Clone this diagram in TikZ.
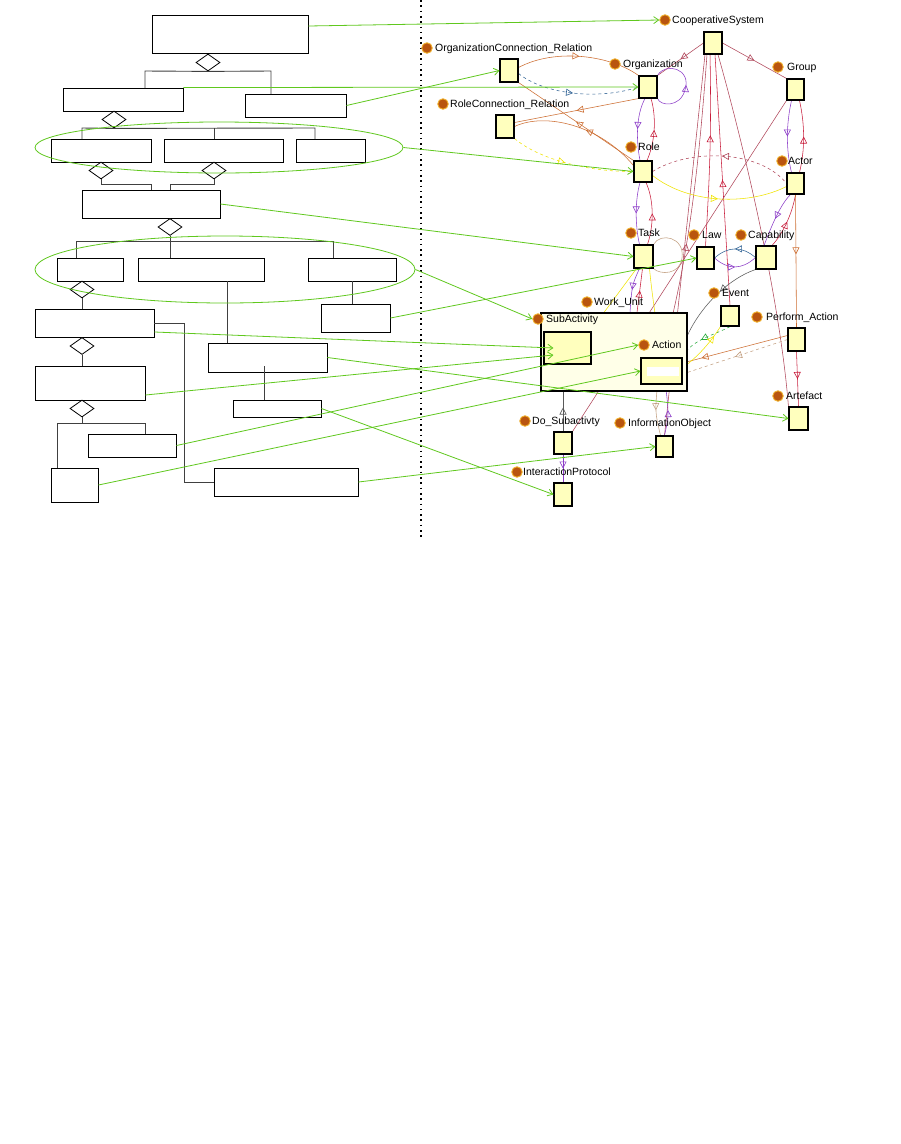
\documentclass[tikz,border=0pt]{standalone}
\usepackage{fontspec}
\setmainfont{Liberation Sans}
\usetikzlibrary{shapes.geometric,arrows.meta,decorations.markings}
\pgfdeclarelayer{bg}
\pgfsetlayers{bg,main}
\definecolor{gr}{RGB}{96,200,30}
\definecolor{ry}{RGB}{255,255,190}
\definecolor{rypale}{RGB}{255,255,232}
\definecolor{dotc}{RGB}{185,85,15}
\definecolor{dotr}{RGB}{240,175,40}
\definecolor{cbr}{RGB}{176,70,90}
\definecolor{cpu}{RGB}{140,60,200}
\definecolor{cre}{RGB}{200,30,60}
\definecolor{cor}{RGB}{205,110,50}
\definecolor{cye}{RGB}{240,228,0}
\definecolor{cbl}{RGB}{50,100,150}
\definecolor{cgn}{RGB}{40,170,60}
\definecolor{cgy}{RGB}{90,90,90}
\definecolor{ctan}{RGB}{195,160,130}
\tikzset{
  lbox/.style={draw=black, line width=0.9pt, inner sep=0pt},
  agg/.style={diamond, draw=black, line width=0.8pt, fill=white, minimum width=24pt, minimum height=17pt, inner sep=0pt},
  tree/.style={draw=black!75, line width=0.9pt},
  grp/.style={ellipse, draw=gr, line width=0.8pt, inner sep=0pt},
  garrow/.style={draw=gr, line width=0.8pt, -{Straight Barb[length=5pt,width=7pt]}},
  rbox/.style={draw=black, line width=1.1pt, fill=ry, inner sep=0pt},
  ldot/.style={circle, fill=dotc, draw=dotr, line width=0.9pt, minimum size=10.5pt, inner sep=0pt},
  ltxt/.style={anchor=base west, inner sep=0pt, font=\fontsize{10.5pt}{12pt}\selectfont},
  thin edge/.style={line width=0.55pt},
  tri/.style={postaction={decorate,decoration={markings,mark=at position #1 with {\arrow{Triangle[open,length=7pt,width=7pt,line width=0.6pt]}}}}},
  tri/.default=0.5,
  rtri/.style={postaction={decorate,decoration={markings,mark=at position #1 with {\arrowreversed{Triangle[open,length=7pt,width=7pt,line width=0.6pt]}}}}},
  rtri/.default=0.5,
}
\begin{document}
\begin{tikzpicture}[x=1pt,y=-1pt]
\begin{pgfonlayer}{bg}
\fill[white] (0,0) rectangle (901,1144);
\end{pgfonlayer}
\useasboundingbox (0,0) rectangle (901,1144);

% ---------------- left hierarchy ----------------
\node[lbox, minimum width=156pt, minimum height=38pt] (top) at (230,34) {};
\node[lbox, minimum width=120pt, minimum height=23pt] (b2l) at (123,99.5) {};
\node[lbox, minimum width=101pt, minimum height=23pt] (b2r) at (295.5,105.5) {};
\node[lbox, minimum width=100pt, minimum height=23pt] (b3a) at (101,150.5) {};
\node[lbox, minimum width=119pt, minimum height=23pt] (b3b) at (223.5,150.5) {};
\node[lbox, minimum width=69pt, minimum height=23pt] (b3c) at (330.5,150.5) {};
\node[lbox, minimum width=138pt, minimum height=28pt] (b4) at (151,204) {};
\node[lbox, minimum width=66pt, minimum height=23pt] (b5d) at (90,269.5) {};
\node[lbox, minimum width=126pt, minimum height=23pt] (b5e) at (201,269.5) {};
\node[lbox, minimum width=88pt, minimum height=23pt] (b5f) at (352,269.5) {};
\node[lbox, minimum width=119pt, minimum height=28pt] (bG) at (94.5,323) {};
\node[lbox, minimum width=69pt, minimum height=28pt] (bH) at (355.5,318) {};
\node[lbox, minimum width=119pt, minimum height=29pt] (bI) at (267.5,357.5) {};
\node[lbox, minimum width=88pt, minimum height=17pt] (bJ) at (277,408.5) {};
\node[lbox, minimum width=110pt, minimum height=34pt] (bK) at (90,383) {};
\node[lbox, minimum width=88pt, minimum height=23pt] (bL) at (132,445.5) {};
\node[lbox, minimum width=47pt, minimum height=34pt] (bM) at (74.5,485) {};
\node[lbox, minimum width=144pt, minimum height=28pt] (bN) at (286,482) {};

\node[agg] (d1) at (208,62.5) {};
\node[agg] (d2) at (114,119.5) {};
\node[agg] (d3) at (101,170.5) {};
\node[agg] (d4) at (214,170.5) {};
\node[agg] (d5) at (170,227) {};
\node[agg] (d6) at (82,289.5) {};
\node[agg] (d7) at (82,346) {};
\node[agg] (d8) at (82,408.5) {};

\draw[tree] (d1.south) -- (145,71) -- (145,88);
\draw[tree] (d1.south) -- (271,71) -- (271,94);
\draw[tree] (d2.south) -- (82,128) -- (82,139);
\draw[tree] (d2.south) -- (315,128) -- (315,139);
\draw[tree] (214,128) -- (214,139);
\draw[tree] (d3.south) -- (101,184) -- (151,184) -- (151,190);
\draw[tree] (d4.south) -- (214,184) -- (170,184) -- (170,190);
\draw[tree] (d5.south) -- (170,241);
\draw[tree] (76,258) -- (76,241) -- (333,241) -- (333,258);
\draw[tree] (170,241) -- (170,258);
\draw[tree] (d6.south) -- (82,309);
\draw[tree] (bG.east) -- (184,323) -- (184,482) -- (bN.west);
\draw[tree] (d7.south) -- (82,366);
\draw[tree] (d8.south) -- (82,423);
\draw[tree] (57,468) -- (57,423) -- (145,423) -- (145,434);
\draw[tree] (352,281) -- (352,304);
\draw[tree] (227,281) -- (227,343);
\draw[tree] (264,366) -- (264,400);

\node[grp, minimum width=368pt, minimum height=51pt] (e1) at (219,147.5) {};
\node[grp, minimum width=380pt, minimum height=67pt] (e2) at (225,269.5) {};

% separator
\coordinate (sepT) at (421,0);
\coordinate (sepB) at (421,540);
\draw[line width=1.6pt, dash pattern=on 1.6pt off 3.7pt] (sepT) -- (sepB);

% ---------------- right ontology graph ----------------
\node[rbox, fill=rypale, minimum width=146pt, minimum height=78pt] (wu) at (614,352) {};
\node[rbox, minimum width=18pt, minimum height=22pt] (coop) at (713,43) {};
\node[rbox, minimum width=17pt, minimum height=21pt] (grpn) at (795.5,89.5) {};
\node[rbox, minimum width=17pt, minimum height=21pt] (act) at (795.5,183.5) {};
\node[rbox, minimum width=18pt, minimum height=22pt] (org) at (648,87) {};
\node[rbox, minimum width=18pt, minimum height=23pt] (ocr) at (509,70.5) {};
\node[rbox, minimum width=18pt, minimum height=23pt] (rcr) at (505,126.5) {};
\node[rbox, minimum width=18pt, minimum height=21pt] (role) at (643,171.5) {};
\node[rbox, minimum width=19pt, minimum height=23pt] (task) at (643.5,256.5) {};
\node[rbox, minimum width=17pt, minimum height=22pt] (law) at (705.5,258) {};
\node[rbox, minimum width=20pt, minimum height=23pt] (cap) at (766,257.5) {};
\node[rbox, minimum width=18pt, minimum height=20pt] (evt) at (730,316) {};
\node[rbox, minimum width=17pt, minimum height=23pt] (pa) at (796.5,339.5) {};
\node[rbox, minimum width=19pt, minimum height=23pt] (art) at (798.5,418.5) {};
\node[rbox, minimum width=47pt, minimum height=32pt] (sub) at (567.5,348) {};
\node[rbox, minimum width=41pt, minimum height=26pt] (actn) at (661.5,371) {};
\node[fill=white, minimum width=32pt, minimum height=9pt, inner sep=0pt] (actnw) at (663,371) {};
\node[rbox, minimum width=18pt, minimum height=22pt] (dosub) at (563,443) {};
\node[rbox, minimum width=17pt, minimum height=21pt] (info) at (664.5,446.5) {};
\node[rbox, minimum width=18pt, minimum height=23pt] (ip) at (563,494.5) {};

% labels
\node[ldot] (coopd) at (665,20) {};   \node[ltxt] (coopt) at (672,23.7) {CooperativeSystem};
\node[ldot] (ocrd) at (427,48) {};    \node[ltxt] (ocrt) at (435,51.7) {OrganizationConnection\_Relation};
\node[ldot] (orgd) at (615,64) {};    \node[ltxt] (orgt) at (623,67.7) {Organization};
\node[ldot] (grpd) at (778,67) {};    \node[ltxt] (grpt) at (787,70.7) {Group};
\node[ldot] (rcrd) at (443,104) {};   \node[ltxt] (rcrt) at (450,107.7) {RoleConnection\_Relation};
\node[ldot] (roled) at (631,147) {};  \node[ltxt] (rolet) at (638,150.7) {Role};
\node[ldot] (actd) at (782,161) {};   \node[ltxt] (actt) at (788,164.7) {Actor};
\node[ldot] (taskd) at (631,233) {};  \node[ltxt] (taskt) at (638,236.7) {Task};
\node[ldot] (lawd) at (694,235) {};   \node[ltxt] (lawt) at (702,238.7) {Law};
\node[ldot] (capd) at (741,235) {};   \node[ltxt] (capt) at (748,238.7) {Capability};
\node[ldot] (evtd) at (714,293) {};   \node[ltxt] (evtt) at (722,296.7) {Event};
\node[ldot] (wud) at (587,302) {};    \node[ltxt] (wut) at (594,305.7) {Work\_Unit};
\node[ldot] (subd) at (538,319) {};   \node[ltxt] (subt) at (546,322.7) {SubActivity};
\node[ldot] (pad) at (757,317) {};    \node[ltxt] (pat) at (766,320.7) {Perform\_Action};
\node[ldot] (actnd) at (644,345) {};  \node[ltxt] (actnt) at (652,348.7) {Action};
\node[ldot] (artd) at (778,396) {};   \node[ltxt] (artt) at (786,399.7) {Artefact};
\node[ldot] (dosubd) at (525,421) {}; \node[ltxt] (dosubt) at (532,424.7) {Do\_Subactivty};
\node[ldot] (infod) at (620,423) {};  \node[ltxt] (infot) at (628,426.7) {InformationObject};
\node[ldot] (ipd) at (517,472) {};    \node[ltxt] (ipt) at (523,475.7) {InteractionProtocol};

% thin edges (behind boxes)
\begin{pgfonlayer}{bg}
\begin{scope}[thin edge]
% CooperativeSystem links
\draw[cbr, tri] (coop.west) -- (org.north east);
\draw[cbr, tri] (coop.east) -- (grpn.north west);
\draw[cre, rtri=0.42] ([xshift=-3pt]coop.south) .. controls (712,150) and (708,200) .. (law.north);
\draw[cre, rtri=0.5] ([xshift=2pt]coop.south) -- (evt.north);
\draw[cbr] ([xshift=5pt]coop.south) .. controls (745,150) and (780,300) .. (art.north west);
\draw[cbr, rtri=0.62] ([xshift=-6pt]coop.south) .. controls (700,150) and (690,260) .. (actn.north);
\draw[cbr] ([xshift=-8pt]coop.south) -- (info.north);
\draw[cbr] (grpn.south west) -- (dosub.north east);
% connection relations
\draw[cor, tri] ([yshift=3pt]ocr.east) .. controls (555,48) and (610,55) .. (org.north west);
\draw[cbl, dashed, tri=0.47] ([yshift=-3pt]ocr.east) .. controls (545,95) and (600,100) .. (org.west);
\draw[cor, rtri] (ocr.south east) -- (role.north west);
\draw[cor, rtri=0.55] (rcr.east) .. controls (545,112) and (600,125) .. ([yshift=6pt]role.west);
\draw[cor, rtri] ([yshift=4pt]rcr.east) -- (org.south west);
\draw[cye, dashed, tri=0.45] (rcr.south east) .. controls (540,160) and (590,172) .. (role.west);
% organization
\draw[cpu, rtri=0.5] (org.north east) .. controls (665,62) and (692,68) .. (685,90) .. controls (680,108) and (660,106) .. (org.south east);
\draw[cpu, tri] ([xshift=-3pt]org.south) .. controls (636,115) and (636,140) .. ([xshift=-3pt]role.north);
\draw[cre, rtri] ([xshift=3pt]org.south) .. controls (656,115) and (656,140) .. ([xshift=4pt]role.north);
% role
\draw[cpu, tri] ([xshift=-3pt]role.south) .. controls (635,200) and (635,225) .. ([xshift=-4pt]task.north);
\draw[cre, rtri] ([xshift=3pt]role.south) .. controls (654,200) and (654,225) .. ([xshift=4pt]task.north);
\draw[cbr, dashed, rtri] (role.east) .. controls (690,148) and (760,150) .. (act.west);
\draw[cye, tri] ([yshift=-4pt]role.east) .. controls (690,205) and (750,205) .. ([yshift=-3pt]act.west);
% task
\draw[ctan] (task.north east) .. controls (660,232) and (685,237) .. (682,258) .. controls (680,275) and (660,275) .. (task.south east);
\draw[cpu, tri] ([xshift=-4pt]task.south) .. controls (632,285) .. ([xshift=16pt]wu.north);
\draw[cre, rtri] ([xshift=-1pt]task.south) .. controls (640,290) .. ([xshift=23pt]wu.north);
\draw[cye, rtri=0.6] ([xshift=6pt]task.south) .. controls (652,295) and (656,320) .. (actn.north);
\draw[cye] ([xshift=-7pt]task.south) -- ([xshift=-10pt]wu.north);
% group / actor
\draw[cpu, tri] ([xshift=-4pt]grpn.south) .. controls (786,125) and (786,150) .. ([xshift=-4pt]act.north);
\draw[cre, rtri] ([xshift=4pt]grpn.south) .. controls (805,125) and (805,150) .. ([xshift=4pt]act.north);
\draw[cpu, tri] ([xshift=-5pt]act.south) .. controls (780,205) and (772,225) .. ([xshift=-2pt]cap.north);
\draw[cre, rtri] (act.south) .. controls (792,215) and (782,235) .. ([xshift=6pt]cap.north);
\draw[cor, tri=0.45] (act.south) -- (pa.north);
\draw[cre, tri] (pa.south) -- (art.north);
\draw[cor, tri=0.82] ([yshift=4pt]pa.west) -- ([yshift=8pt]actn.east);
\draw[ctan, dashed, tri] (pa.west) -- ([yshift=-3pt]actn.east);
% law / capability / event
\draw[cbl, tri] (cap.west) .. controls (742,246) and (728,246) .. (law.east);
\draw[cpu, tri] (law.east) .. controls (728,270) and (742,270) .. (cap.west);
\draw[cgy, tri=0.35] (cap.south west) .. controls (725,280) and (690,315) .. ([xshift=-3pt]actn.north east);
\draw[cgn, dashed, tri=0.55] (evt.south) .. controls (715,335) and (690,340) .. (actn.north east);
\draw[cye, tri=0.8] ([yshift=3pt]actn.east) .. controls (700,355) and (712,340) .. (evt.south west);
% subactivity / action
\draw[cpu, rtri] (sub.west) .. controls (555,335) and (580,335) .. (sub.east);
\draw[cre, tri] (sub.west) .. controls (555,362) and (580,362) .. (sub.east);
\draw[cye, rtri] (sub.east) .. controls (597,322) and (625,330) .. (618,350) .. controls (612,368) and (595,362) .. (sub.east);
\draw[cye, tri=0.6] ([yshift=-5pt]sub.east) .. controls (612,362) .. (actn.west);
\draw[cgy, tri=0.6] (dosub.north) -- (dosub.north |- wu.south);
\draw[cpu, tri] (info.north) .. controls (669,415) .. ([xshift=4pt]actn.south);
\draw[ctan, rtri] ([xshift=-4pt]info.north) .. controls (655,412) .. ([xshift=-4pt]actn.south);
\draw[cpu, tri] (dosub.south) -- (ip.north);
\end{scope}
\end{pgfonlayer}

% ---------------- green mapping arrows ----------------
\draw[garrow] ([yshift=8pt]top.east) -- (coopd.west);
\draw[garrow] (b2l.north east) -- (org.west);
\draw[garrow] (b2r.east) -- (ocr.west);
\draw[garrow] (e1.east) -- (role.west);
\draw[garrow] (b4.east) -- (task.west);
\draw[garrow] (e2.east) -- (subd.west);
\draw[garrow] (bH.east) -- (law.west);
\draw[garrow] ([yshift=-9pt]bG.east) -- ([xshift=10pt]sub.west);
\draw[garrow] ([yshift=-12pt]bK.east) -- ([xshift=10pt,yshift=-7pt]sub.west);
\draw[garrow] (bL.east) -- (actnd.west);
\draw[garrow] (bM.east) -- (actn.west);
\draw[garrow] (bN.east) -- (info.west);
\draw[garrow] (bJ.east) -- (ip.west);
\draw[garrow] (bI.east) -- (art.west);
\end{tikzpicture}
\end{document}
